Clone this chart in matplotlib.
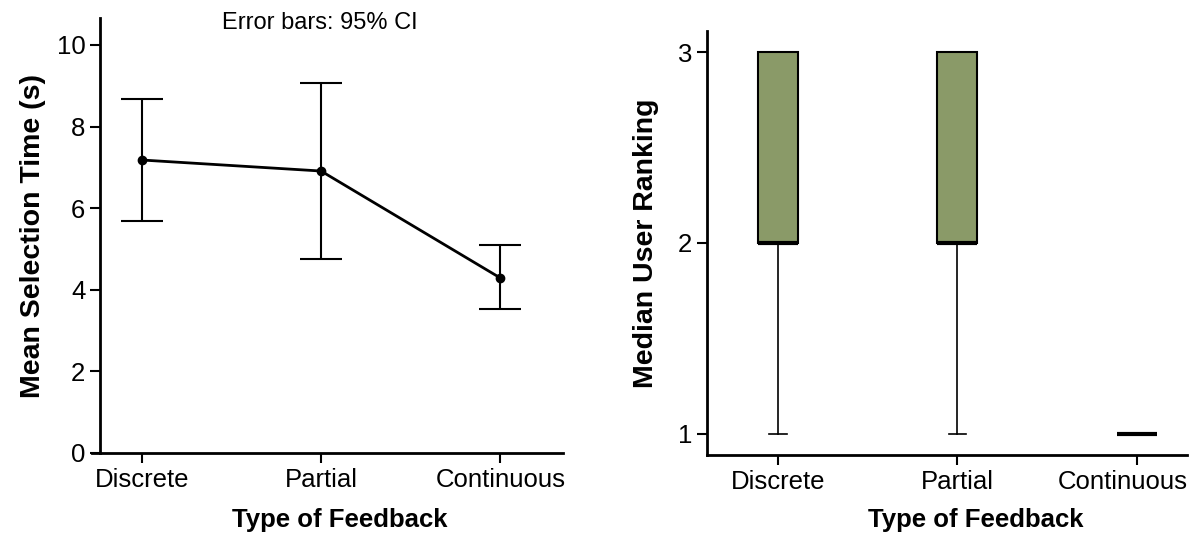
import numpy as np
import matplotlib
matplotlib.use("Agg")
import matplotlib.pyplot as plt
from matplotlib.transforms import ScaledTranslation

plt.rcParams['font.family'] = ['Liberation Sans', 'DejaVu Sans']

# Left panel: mean selection time with 95% CI
categories = ["Discrete", "Partial", "Continuous"]
mean_time = [7.18, 6.91, 4.29]
ci_low = [5.69, 4.75, 3.53]
ci_high = [8.68, 9.07, 5.10]

# Right panel: user ranking box plot stats
rank_q1 = [2, 2, 1]
rank_med = [2, 2, 1]
rank_q3 = [3, 3, 1]
rank_whislo = [1, 1, 1]
rank_whishi = [3, 3, 1]

box_color = "#8a9a68"

fig = plt.figure(figsize=(11.95, 5.35), dpi=100)

# ---- left panel
ax1 = fig.add_axes([92 / 1195, 1 - 453 / 535, (563 - 92) / 1195, (453 - 18) / 535])
x = np.arange(len(categories))
yerr = [np.array(mean_time) - np.array(ci_low), np.array(ci_high) - np.array(mean_time)]
ax1.errorbar(x, mean_time, yerr=yerr, color="black", lw=2, elinewidth=1.5,
             capsize=15, capthick=1.5, marker="o", ms=6)
ax1.set_xlim(-0.278, 2.35)
ax1.set_ylim(0, 10.66)
ax1.spines['left'].set_position(('data', -0.233))
ax1.spines['top'].set_visible(False)
ax1.spines['right'].set_visible(False)
for s in ['left', 'bottom']:
    ax1.spines[s].set_linewidth(2)
ax1.set_xticks(x)
ax1.set_xticklabels(categories)
ax1.set_yticks([0, 2, 4, 6, 8, 10])
ax1.tick_params(axis='both', labelsize=18.5, width=1.5, length=7, color="black")
ax1.set_xlabel("Type of Feedback", fontsize=18.5, fontweight="bold")
ax1.xaxis.set_label_coords(0.527, -0.126)
ax1.set_ylabel("Mean Selection Time (s)", fontsize=20.5, fontweight="bold", labelpad=8)
fig.text((217 + 422) / 2 / 1195, 1 - 12 / 535, "Error bars: 95% CI", ha="center", va="top", fontsize=17)

# ---- right panel
ax2 = fig.add_axes([707 / 1195, 1 - 455 / 535, (1187 - 707) / 1195, (455 - 31) / 535])
stats = []
for i in range(len(categories)):
    stats.append({"q1": rank_q1[i], "med": rank_med[i], "q3": rank_q3[i],
                  "whislo": rank_whislo[i], "whishi": rank_whishi[i], "fliers": []})
ax2.bxp(stats, positions=x, widths=0.223, capwidths=0.1, showfliers=False,
        patch_artist=True,
        boxprops=dict(facecolor=box_color, edgecolor="black", linewidth=1.5),
        medianprops=dict(color="black", linewidth=3),
        whiskerprops=dict(color="black", linewidth=1.2),
        capprops=dict(color="black", linewidth=1.2))
ax2.set_xlim(-0.397, 2.28)
ax2.set_ylim(0.89, 3.11)
ax2.spines['top'].set_visible(False)
ax2.spines['right'].set_visible(False)
for s in ['left', 'bottom']:
    ax2.spines[s].set_linewidth(2)
ax2.set_xticks(x)
ax2.set_xticklabels(categories)
ax2.set_yticks([1, 2, 3])
ax2.tick_params(axis='both', labelsize=18.5, width=1.5, length=7, color="black")
# last label sits a little left of its tick so it fits in the figure
last = ax2.get_xticklabels()[-1]
last.set_transform(last.get_transform() + ScaledTranslation(-0.14, 0, fig.dpi_scale_trans))
ax2.set_xlabel("Type of Feedback", fontsize=18.5, fontweight="bold")
ax2.xaxis.set_label_coords(0.560, -0.125)
ax2.set_ylabel("Median User Ranking", fontsize=20.5, fontweight="bold", labelpad=14)

fig.savefig("out.png", dpi=100)
